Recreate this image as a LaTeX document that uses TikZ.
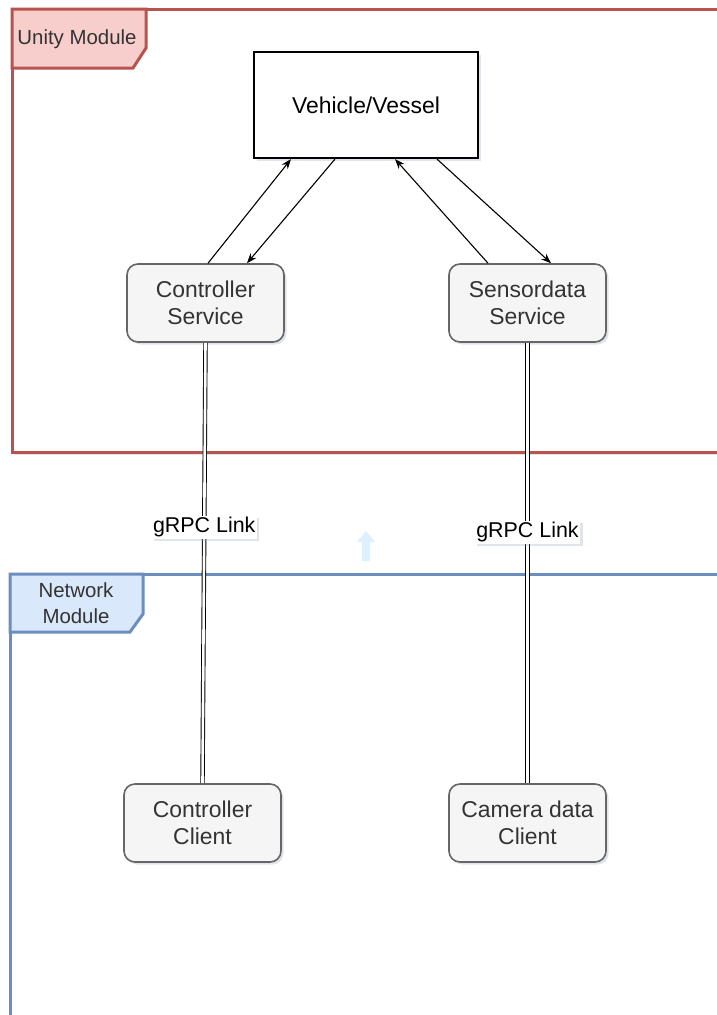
\documentclass[tikz,border=0pt]{standalone}
\usepackage{fontspec}
\setmainfont{Liberation Sans}
\usetikzlibrary{arrows.meta,shadows}
\definecolor{unityline}{HTML}{B85450}
\definecolor{unityfill}{HTML}{F8CECC}
\definecolor{netline}{HTML}{6C8EBF}
\definecolor{netfill}{HTML}{DAE8FC}
\definecolor{boxline}{HTML}{666666}
\definecolor{boxfill}{HTML}{F5F5F5}
\definecolor{boxtext}{HTML}{333333}
\definecolor{hintblue}{HTML}{DDF0FD}
\definecolor{shade}{HTML}{9FA6BF}
\tikzset{
  softshadow/.style={drop shadow={shadow xshift=2.5bp,shadow yshift=-2.5bp,opacity=0.3,fill=shade}},
  service/.style={draw=boxline,line width=1.6bp,fill=boxfill,rounded corners=11bp,
    minimum width=157bp,minimum height=78bp,align=center,text=boxtext,
    font=\fontsize{23}{27}\selectfont,softshadow},
  vehiclebox/.style={draw=black,line width=2.2bp,fill=white,minimum width=224bp,
    minimum height=106bp,font=\fontsize{23}{27}\selectfont,softshadow},
  flow/.style={line width=1.1bp,-{Stealth[length=10bp,width=7.5bp]}},
  grpc/.style={draw=black,line width=0.9bp,double=white,double distance=2.6bp},
  linklabel/.style={fill=white,inner sep=1.5bp,font=\fontsize{21.5}{25}\selectfont,softshadow},
  tablabel/.style={align=center,text=boxtext,font=\fontsize{20.5}{26}\selectfont}
}
\begin{document}
\begin{tikzpicture}[x=1bp,y=-1bp]
\useasboundingbox (0,0) rectangle (717,1015);
\fill[white] (0,0) rectangle (717,1015);

% Unity module frame and tab
\draw[unityline,line width=3bp,softshadow,fill=white] (12,9) rectangle (740,452);
\draw[unityline,line width=3bp,fill=unityfill] (12,9) -- (146,9) -- (146,48) -- (133,68) -- (12,68) -- cycle;
\node[tablabel] (unitytab) at (77,39) {Unity Module};

% Network module frame and tab
\draw[netline,line width=3bp,softshadow,fill=white] (10,574) rectangle (740,1040);
\draw[netline,line width=3bp,fill=netfill] (10,574) -- (143,574) -- (143,614) -- (130,632) -- (10,632) -- cycle;
\node[tablabel] (nettab) at (76,603) {Network\\Module};

% faint move hint between the modules
\fill[hintblue] (362,561) -- (362,542) -- (357,542) -- (366,531) -- (375,542) -- (370,542) -- (370,561) -- cycle;

% nodes
\node[vehiclebox] (veh) at (366,105) {Vehicle/Vessel};
\node[service] (cs) at (205.5,303) {Controller\\Service};
\node[service] (ss) at (527.5,303) {Sensordata\\Service};
\node[service] (cc) at (202.5,823) {Controller\\Client};
\node[service] (cd) at (527.5,823) {Camera data\\Client};

% exchanges with the vehicle
\draw[flow] ([xshift=2.5bp]cs.north) -- ([xshift=-75bp]veh.south);
\draw[flow] ([xshift=-31bp]veh.south) -- ([xshift=41.5bp]cs.north);
\draw[flow] ([xshift=-39.5bp]ss.north) -- ([xshift=29bp]veh.south);
\draw[flow] ([xshift=71bp]veh.south) -- ([xshift=23.5bp]ss.north);

% gRPC links
\draw[grpc] (cs.south) -- node[pos=0.419,linklabel] (lnkA) {gRPC Link} (cc.north);
\draw[grpc] (ss.south) -- node[pos=0.43,linklabel] (lnkB) {gRPC Link} (cd.north);
\end{tikzpicture}
\end{document}
